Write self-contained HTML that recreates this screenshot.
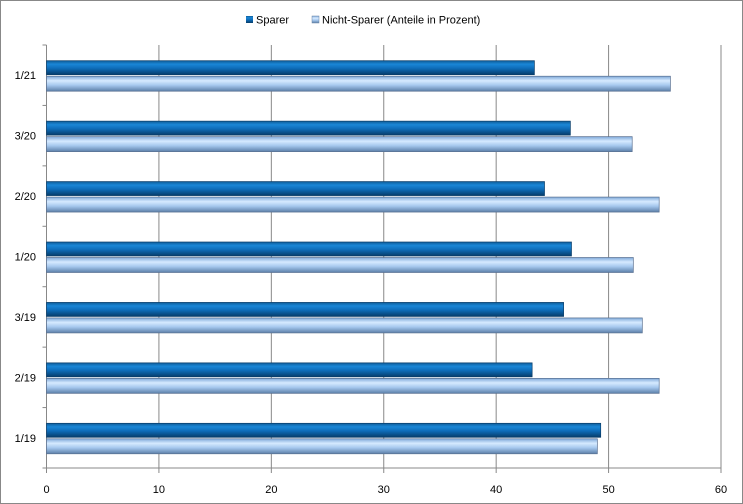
<!DOCTYPE html>
<html><head><meta charset="utf-8"><style>
body{margin:0;background:#fff}
svg{display:block;font-family:"Liberation Sans",Tahoma,sans-serif}
</style></head><body>
<svg width="743" height="504" viewBox="0 0 743 504">
<defs>
<linearGradient id="gD" x1="0" y1="0" x2="0" y2="1">
<stop offset="0" stop-color="#0f5d99"/><stop offset="0.25" stop-color="#1a86d6"/><stop offset="0.55" stop-color="#0e6cb8"/><stop offset="1" stop-color="#063c6a"/>
</linearGradient>
<linearGradient id="gL" x1="0" y1="0" x2="0" y2="1">
<stop offset="0" stop-color="#7ea8d8"/><stop offset="0.3" stop-color="#d6eaff"/><stop offset="0.6" stop-color="#a6c8ee"/><stop offset="1" stop-color="#5c7fa8"/>
</linearGradient>
</defs>
<rect x="0.5" y="0.5" width="742" height="503" fill="#fff" stroke="#888"/>
<g id="grid"></g><g id="bars"></g><g id="labels"></g>
<g font-size="11" fill="#000">
<rect x="246" y="16" width="7" height="7" fill="url(#gD)"/>
<text x="256" y="23.5">Sparer</text>
<rect x="312" y="16" width="7" height="7" fill="url(#gL)" stroke="#6a84a4" stroke-width="0.5"/>
<text x="322" y="23.5">Nicht-Sparer  (Anteile in Prozent)</text>
</g>
</svg>
<script>
const categories=["1/21","3/20","2/20","1/20","3/19","2/19","1/19"];
const sparer=[43.4,46.6,44.3,46.7,46.0,43.2,49.3];
const nichtSparer=[55.5,52.1,54.5,52.2,53.0,54.5,49.0];
const ticks=[0,10,20,30,40,50,60];
const NS="http://www.w3.org/2000/svg";
const x0=46.5,x1=721,yTop=45,yBot=468,maxV=60;
const xs=v=>x0+(x1-x0)*v/maxV;
const band=(yBot-yTop)/categories.length;
function mk(t,a,p){const e=document.createElementNS(NS,t);for(const k in a)e.setAttribute(k,a[k]);p.appendChild(e);return e;}
const grid=document.getElementById('grid'),bars=document.getElementById('bars'),labels=document.getElementById('labels');
ticks.forEach(t=>{
  const l=mk('line',{x1:xs(t),x2:xs(t),y1:yTop,y2:yBot+5,stroke:'#888','stroke-width':1},grid);
  
  
  const tx=mk('text',{x:xs(t),y:493,'text-anchor':'middle','font-size':11},labels);
  tx.textContent=t;
  
  
});
const ax=mk('line',{x1:x0,x2:x0,y1:yTop,y2:yBot,stroke:'#888'},grid);


const axx=mk('line',{x1:x0,x2:x1,y1:yBot,y2:yBot,stroke:'#888'},grid);


for(let i=0;i<=categories.length;i++){
  const y=yTop+band*i;
  const tk=mk('line',{x1:x0-4,x2:x0,y1:y,y2:y,stroke:'#888'},grid);
  
  
}
categories.forEach((c,i)=>{
  const cy=yTop+band*i+band/2;
  const b1=mk('rect',{x:x0,y:cy-14.5,width:xs(sparer[i])-x0,height:14,fill:'url(#gD)',stroke:'#0a3e6a','stroke-width':0.7},bars);
  
  
  const b2=mk('rect',{x:x0,y:cy+1,width:xs(nichtSparer[i])-x0,height:15,fill:'url(#gL)',stroke:'#5a7192','stroke-width':0.7},bars);
  
  
  const t=mk('text',{x:36,y:cy+4,'text-anchor':'end','font-size':11},labels);
  t.textContent=c;
  
  
});
</script>
</body></html>
